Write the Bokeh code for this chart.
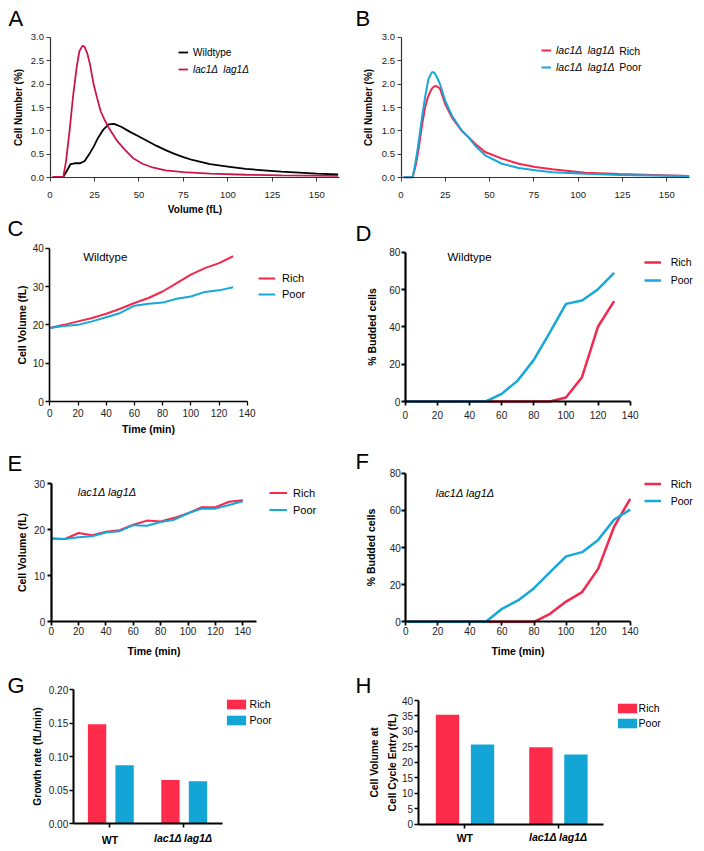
from bokeh.plotting import figure
from bokeh.layouts import column, row
from bokeh.models import (Legend, LegendItem, Label, FixedTicker, Range1d,
                          ColumnDataSource, NumeralTickFormatter)
from bokeh.transform import dodge
from bokeh.embed import file_html
from bokeh.resources import INLINE

FONT = "Liberation Sans"
RED = "#f2294d"
CYAN = "#17a7d9"
CRIMSON = "#c9174b"
BAR_RED = "#ff2b4b"
BAR_CYAN = "#13a5d5"
MUT = "lac1\u0394 lag1\u0394"
MUT2 = "lac1\u0394  lag1\u0394"

# ---------------- data ----------------
# Panel A: volume distributions
A_wt_vol = [1.5, 7.5, 9.5, 11.5, 14, 17, 19.5, 22, 24.5, 27, 30, 33, 36, 40, 45, 50, 55, 60,
            65, 70, 75, 80, 90, 100, 110, 120, 130, 140, 150, 162]
A_wt_pct = [0.02, 0.02, 0.15, 0.29, 0.31, 0.31, 0.36, 0.50, 0.66, 0.85, 1.03, 1.14, 1.15, 1.09,
            0.98, 0.88, 0.78, 0.68, 0.59, 0.51, 0.44, 0.38, 0.29, 0.24, 0.19, 0.16, 0.13, 0.11,
            0.09, 0.07]
A_mut_vol = [1.5, 7.5, 9, 11, 13, 15, 16.5, 18.3, 19.5, 21, 22.5, 24.5, 26.5, 28.5, 30.5, 33,
             37.5, 42, 47, 52, 57, 65, 75, 90, 110, 130, 162]
A_mut_pct = [0.02, 0.02, 0.35, 1.0, 1.75, 2.36, 2.70, 2.82, 2.79, 2.65, 2.42, 2.0, 1.70, 1.42,
             1.25, 1.07, 0.80, 0.60, 0.41, 0.30, 0.23, 0.16, 0.12, 0.09, 0.065, 0.05, 0.04]

# Panel B
B_rich_vol = [1.5, 6.6, 8.5, 9.8, 11.7, 13.6, 15, 16.4, 17.8, 19.2, 20.5, 22, 24.9, 28.7, 34.3,
              38, 42, 47.5, 57, 66.4, 75.8, 85.3, 104, 123, 142, 162.6]
B_rich_pct = [0.01, 0.01, 0.3, 0.58, 1.08, 1.5, 1.7, 1.83, 1.92, 1.96, 1.95, 1.9, 1.58, 1.29,
              1.0, 0.87, 0.72, 0.55, 0.41, 0.30, 0.23, 0.18, 0.11, 0.08, 0.06, 0.04]
B_poor_vol = [1.5, 6.6, 8.5, 9.8, 11.7, 13.6, 15.5, 17.4, 18.5, 19.2, 20.5, 22, 24.9, 28.7, 34.3,
              38, 42, 47.5, 57, 66.4, 75.8, 85.3, 104, 123, 142, 162.6]
B_poor_pct = [0.01, 0.01, 0.4, 0.72, 1.25, 1.72, 2.11, 2.25, 2.25, 2.22, 2.13, 2.0, 1.65, 1.33,
              1.01, 0.87, 0.68, 0.48, 0.30, 0.21, 0.16, 0.12, 0.085, 0.06, 0.05, 0.04]

# Panel C: wildtype cell volume
C_time = [0, 10, 20, 30, 40, 50, 60, 70, 80, 90, 100, 110, 120, 130]
C_rich = [19.2, 20.0, 20.9, 21.8, 22.9, 24.2, 25.7, 27.0, 28.7, 30.9, 33.1, 34.8, 36.1, 37.9]
C_poor = [19.2, 19.7, 20.0, 20.9, 22.0, 23.1, 25.0, 25.5, 25.8, 26.8, 27.4, 28.6, 29.0, 29.8]

# Panel D: wildtype % budded
D_time = [0, 10, 20, 30, 40, 50, 60, 70, 80, 90, 100, 110, 120, 130]
D_rich = [0, 0, 0, 0, 0, 0, 0, 0, 0, 0, 2.1, 13, 40.2, 53.8]
D_poor = [0, 0, 0, 0, 0, 0, 4.1, 11.2, 22.3, 37, 52.3, 54.1, 60.2, 68.9]

# Panel E: mutant cell volume
E_time = [0, 10, 20, 30, 40, 50, 60, 70, 80, 90, 100, 110, 120, 130, 140]
E_rich = [18.1, 18.0, 19.3, 18.8, 19.6, 19.9, 21.1, 22.0, 21.8, 22.6, 23.6, 24.9, 24.9, 26.1, 26.4]
E_poor = [18.1, 18.0, 18.4, 18.6, 19.4, 19.7, 21.0, 20.9, 21.7, 22.2, 23.6, 24.6, 24.6, 25.4, 26.2]

# Panel F: mutant % budded
F_time = [0, 10, 20, 30, 40, 50, 60, 70, 80, 90, 100, 110, 120, 130, 140]
F_rich = [0, 0, 0, 0, 0, 0, 0, 0, 0, 4.3, 10.9, 16.0, 28.5, 51.3, 66.2]
F_poor = [0, 0, 0, 0, 0, 0, 7.0, 11.5, 18.1, 26.7, 35.2, 37.5, 44.1, 55.1, 60.4]

# Panels G, H: bars
strains = ["WT", MUT]
G_rich = [0.148, 0.065]
G_poor = [0.087, 0.063]
H_rich = [35.4, 24.9]
H_poor = [25.8, 22.5]

A_xticks = [0, 25, 50, 75, 100, 125, 150]
A_yticks = [0, 0.5, 1.0, 1.5, 2.0, 2.5, 3.0]
T_ticks = [0, 20, 40, 60, 80, 100, 120, 140]
C_yticks = [0, 10, 20, 30, 40]
D_yticks = [0, 20, 40, 60, 80]
E_yticks = [0, 10, 20, 30]
G_yticks = [0, 0.05, 0.10, 0.15, 0.20]
H_yticks = [0, 5, 10, 15, 20, 25, 30, 35, 40]

W = 352


def lin_range(p0, p1, v0, v1, size):
    # pixel p0 (from left/bottom) shows value v0, pixel p1 shows v1
    k = (p1 - p0) / (v1 - v0)
    return Range1d(v0 - p0 / k, v0 + (size - p0) / k)


def panel(h, xpx, xv, ypx, yv, xb, yb, axw=2.0, axc="black", tick_fs="10px"):
    xr = lin_range(xpx[0], xpx[1], xv[0], xv[1], W)
    yr = lin_range(h - ypx[0], h - ypx[1], yv[0], yv[1], h)
    p = figure(width=W, height=h, x_range=xr, y_range=yr, output_backend="svg",
               toolbar_location=None, title=None, min_border_left=0, min_border_right=0,
               min_border_top=0, min_border_bottom=0)
    p.outline_line_color = None
    p.xgrid.visible = False
    p.ygrid.visible = False
    p.xaxis.fixed_location = yv[0]
    p.yaxis.fixed_location = xv[0]
    p.xaxis.bounds = xb
    p.yaxis.bounds = yb
    for ax in (p.xaxis, p.yaxis):
        ax.axis_line_color = axc
        ax.axis_line_width = axw
        ax.major_tick_line_color = axc
        ax.major_tick_line_width = axw * 0.8
        ax.minor_tick_line_color = None
        ax.major_tick_in = 0
        ax.major_tick_out = 4
        ax.major_label_text_font = FONT
        ax.major_label_text_font_size = tick_fs
        ax.major_label_text_color = "#222222"
        ax.axis_label_text_font = FONT
        ax.axis_label_text_font_style = "bold"
        ax.axis_label_text_font_size = "10.5px"
        ax.axis_label_text_color = "black"
    return p


LETTER_SHIFT = 7


def letter(p, txt, x, y):
    p.add_layout(Label(x=x, y=y + LETTER_SHIFT, x_units="screen", y_units="screen", text=txt,
                       text_font=FONT, text_font_size="22px", text_baseline="alphabetic",
                       text_color="black"))


def note(p, txt, x, y, fs="11px", style="normal", align="left", xunits="screen"):
    p.add_layout(Label(x=x, y=y, x_units=xunits, y_units="screen", text=txt,
                       text_font=FONT, text_font_size=fs, text_font_style=style,
                       text_align=align, text_baseline="middle", text_color="black"))


def legend(p, items, loc, gw, gh, lh, sp, so, fs, style="normal"):
    leg = Legend(items=items, location=loc, orientation="vertical",
                 glyph_width=gw, glyph_height=gh, label_height=lh, spacing=sp,
                 label_standoff=so, padding=0, margin=0, border_line_color=None,
                 background_fill_alpha=0, label_text_font=FONT, label_text_font_size=fs,
                 label_text_font_style=style, label_text_color="black")
    p.add_layout(leg)


# ---------------- A ----------------
HA = 215
pA = panel(HA, (49.5, 316.3), (0, 150), (177.3, 36.7), (0, 3.0), (0, 163), (0, 3.0),
           axw=1.2, axc="#333333", tick_fs="9.5px")
rA1 = pA.line(A_wt_vol, A_wt_pct, line_color="black", line_width=1.8)
rA2 = pA.line(A_mut_vol, A_mut_pct, line_color=CRIMSON, line_width=1.8)
pA.xaxis.ticker = FixedTicker(ticks=A_xticks)
pA.yaxis.ticker = FixedTicker(ticks=A_yticks)
pA.yaxis.formatter = NumeralTickFormatter(format="0.0")
pA.xaxis.axis_label = "Volume (fL)"
pA.yaxis.axis_label = "Cell Number (%)"
pA.xaxis.major_label_standoff = 10
pA.yaxis.major_label_standoff = 2
pA.xaxis.axis_label_standoff = 3
pA.yaxis.axis_label_standoff = 4
pA.xaxis.axis_label_text_font_size = "10px"
pA.yaxis.axis_label_text_font_size = "10px"
legend(pA, [LegendItem(label="Wildtype", renderers=[rA1])], (178, 155), 10, 16, 16, 0, 5, "10px")
legend(pA, [LegendItem(label=MUT2, renderers=[rA2])], (178, 138), 10, 16, 16, 0, 5, "10px", "italic")
letter(pA, "A", 8, HA - 25)

# ---------------- B ----------------
pB = panel(HA, (48.5, 314.3), (0, 150), (177.3, 36.7), (0, 3.0), (0, 163), (0, 3.0),
           axw=1.2, axc="#333333", tick_fs="9.5px")
rB1 = pB.line(B_rich_vol, B_rich_pct, line_color=RED, line_width=2)
rB2 = pB.line(B_poor_vol, B_poor_pct, line_color=CYAN, line_width=2)
pB.xaxis.ticker = FixedTicker(ticks=A_xticks)
pB.yaxis.ticker = FixedTicker(ticks=A_yticks)
pB.yaxis.formatter = NumeralTickFormatter(format="0.0")
pB.yaxis.axis_label = "Cell Number (%)"
pB.xaxis.major_label_standoff = 10
pB.yaxis.major_label_standoff = 2
pB.yaxis.axis_label_standoff = 5
pB.yaxis.axis_label_text_font_size = "10px"
legend(pB, [LegendItem(label=MUT2, renderers=[rB1]), LegendItem(label=MUT2, renderers=[rB2])],
       (189, 140), 10, 16, 16, 1, 5, "10.5px", "italic")
note(pB, "Rich", 266.7, HA - 50, "10.5px")
note(pB, "Poor", 266.7, HA - 66.7, "10.5px")
letter(pB, "B", 3, HA - 25)

# ---------------- C ----------------
HC = 221
pC = panel(HC, (49.3, 246.7), (0, 140), (186, 32.7), (0, 40), (0, 140), (0, 40), axw=1.6)
rC1 = pC.line(C_time, C_rich, line_color=RED, line_width=2)
rC2 = pC.line(C_time, C_poor, line_color=CYAN, line_width=2)
pC.xaxis.ticker = FixedTicker(ticks=T_ticks)
pC.yaxis.ticker = FixedTicker(ticks=C_yticks)
pC.xaxis.axis_label = "Time (min)"
pC.yaxis.axis_label = "Cell Volume (fL)"
pC.xaxis.major_label_standoff = 3
pC.yaxis.major_label_standoff = 2
pC.xaxis.axis_label_standoff = 3
pC.yaxis.axis_label_standoff = 1
legend(pC, [LegendItem(label="Rich", renderers=[rC1]), LegendItem(label="Poor", renderers=[rC2])],
       (258, 134), 17, 16, 16, 0, 7, "11px")
note(pC, "Wildtype", 82.7, HC - 41, "11.5px")
letter(pC, "C", 7, HC - 20)

# ---------------- D ----------------
pD = panel(HC, (52.8, 277.7), (0, 140), (186, 36.7), (0, 80), (0, 140), (0, 80), axw=2.2)
rD1 = pD.line(D_time, D_rich, line_color=RED, line_width=2.5)
rD2 = pD.line(D_time, D_poor, line_color=CYAN, line_width=2.5)
pD.xaxis.ticker = FixedTicker(ticks=T_ticks)
pD.yaxis.ticker = FixedTicker(ticks=D_yticks)
pD.yaxis.axis_label = "% Budded cells"
pD.xaxis.major_label_standoff = 5
pD.yaxis.major_label_standoff = 1
pD.yaxis.axis_label_standoff = 8
legend(pD, [LegendItem(label="Rich", renderers=[rD1]), LegendItem(label="Poor", renderers=[rD2])],
       (291.7, 147), 17, 18, 18, 0, 10, "10.5px")
note(pD, "Wildtype", 95, HC - 41, "11.5px")
letter(pD, "D", 3, HC - 25)

# ---------------- E ----------------
HE = 225
pE = panel(HE, (50.7, 242.3), (0, 140), (185.3, 47.3), (0, 30), (0, 150), (0, 30), axw=2.2)
rE1 = pE.line(E_time, E_rich, line_color=RED, line_width=2)
rE2 = pE.line(E_time, E_poor, line_color=CYAN, line_width=2)
pE.xaxis.ticker = FixedTicker(ticks=T_ticks)
pE.yaxis.ticker = FixedTicker(ticks=E_yticks)
pE.xaxis.axis_label = "Time (min)"
pE.yaxis.axis_label = "Cell Volume (fL)"
pE.xaxis.major_label_standoff = 1
pE.yaxis.major_label_standoff = 2
pE.xaxis.axis_label_standoff = 7
pE.yaxis.axis_label_standoff = 3
legend(pE, [LegendItem(label="Rich", renderers=[rE1]), LegendItem(label="Poor", renderers=[rE2])],
       (269, 143), 18, 17, 17, 0, 6, "11px")
note(pE, MUT, 77.3, HE - 55.7, "11px", "italic")
letter(pE, "E", 7, HE - 34)

# ---------------- F ----------------
pF = panel(HE, (53.3, 277.7), (0, 140), (185.3, 36.7), (0, 80), (0, 140), (0, 80), axw=2.2)
rF1 = pF.line(F_time, F_rich, line_color=RED, line_width=2.5)
rF2 = pF.line(F_time, F_poor, line_color=CYAN, line_width=2.5)
pF.xaxis.ticker = FixedTicker(ticks=T_ticks)
pF.yaxis.ticker = FixedTicker(ticks=D_yticks)
pF.xaxis.axis_label = "Time (min)"
pF.yaxis.axis_label = "% Budded cells"
pF.xaxis.major_label_standoff = 1
pF.yaxis.major_label_standoff = 1
pF.xaxis.axis_label_standoff = 7
pF.yaxis.axis_label_standoff = 9
legend(pF, [LegendItem(label="Rich", renderers=[rF1]), LegendItem(label="Poor", renderers=[rF2])],
       (291.7, 152), 17, 17, 17, 0, 10, "10.5px")
note(pF, MUT, 83.3, HE - 56.3, "11px", "italic")
letter(pF, "F", 3, HE - 32)

# ---------------- G ----------------
HG = 190
pos = [i + 0.5 for i in range(len(strains))]
srcG = ColumnDataSource(dict(pos=pos, rich=G_rich, poor=G_poor))
pG = panel(HG, (72.7, 219.5), (0, 2), (162, 28), (0, 0.20), (0, 2.03), (0, 0.20), axw=2.0)
rG1 = pG.vbar(x=dodge("pos", -0.175), top="rich", width=0.25, source=srcG,
              fill_color=BAR_RED, line_color=None)
rG2 = pG.vbar(x=dodge("pos", 0.2), top="poor", width=0.25, source=srcG,
              fill_color=BAR_CYAN, line_color=None)
pG.xaxis.ticker = FixedTicker(ticks=pos)
pG.xaxis.major_label_overrides = {pos[0]: strains[0], pos[1]: ""}
pG.yaxis.ticker = FixedTicker(ticks=G_yticks)
pG.yaxis.formatter = NumeralTickFormatter(format="0.00")
pG.yaxis.axis_label = "Growth rate (fL/min)"
pG.yaxis.major_label_standoff = 1
pG.yaxis.axis_label_standoff = 3
pG.yaxis.axis_label_text_font_size = "10.3px"
pG.xaxis.major_label_standoff = 6
pG.xaxis.major_label_text_font_style = "bold"
pG.xaxis.major_label_text_font_size = "10.5px"
pG.xaxis.major_label_text_color = "black"
note(pG, strains[1], pos[1], HG - 176, "10.5px", "bold italic", "center", "data")
legend(pG, [LegendItem(label="Rich", renderers=[rG1]), LegendItem(label="Poor", renderers=[rG2])],
       (223.6, 123), 24, 12, 16, 0, 2, "10.5px")
letter(pG, "G", 7, HG - 31)

# ---------------- H ----------------
srcH = ColumnDataSource(dict(pos=pos, rich=H_rich, poor=H_poor))
pH = panel(HG, (65.6, 252.4), (0, 2), (162.7, 39), (0, 40), (0, 1.99), (0, 40), axw=2.0)
rH1 = pH.vbar(x=dodge("pos", -0.185), top="rich", width=0.25, source=srcH,
              fill_color=BAR_RED, line_color=None)
rH2 = pH.vbar(x=dodge("pos", 0.19), top="poor", width=0.25, source=srcH,
              fill_color=BAR_CYAN, line_color=None)
pH.xaxis.ticker = FixedTicker(ticks=pos)
pH.xaxis.major_label_overrides = {pos[0]: strains[0], pos[1]: ""}
pH.yaxis.ticker = FixedTicker(ticks=H_yticks)
pH.yaxis.axis_label = "Cell Volume at\nCell Cycle Entry (fL)"
pH.yaxis.major_label_standoff = 1
pH.yaxis.axis_label_standoff = 1
pH.yaxis.axis_label_text_font_size = "10.3px"
pH.yaxis.axis_label_text_line_height = 1.65
pH.xaxis.major_label_standoff = 4
pH.xaxis.major_label_text_font_style = "bold"
pH.xaxis.major_label_text_font_size = "10.5px"
pH.xaxis.major_label_text_color = "black"
note(pH, strains[1], pos[1], HG - 175.7, "10.5px", "bold italic", "center", "data")
legend(pH, [LegendItem(label="Rich", renderers=[rH1]), LegendItem(label="Poor", renderers=[rH2])],
       (262.6, 121), 24, 12, 15, 0, 0, "10.5px")
letter(pH, "H", 3, HG - 31)

layout = column(row(pA, pB), row(pC, pD), row(pE, pF), row(pG, pH))
open("out.html", "w").write(file_html(layout, INLINE))
